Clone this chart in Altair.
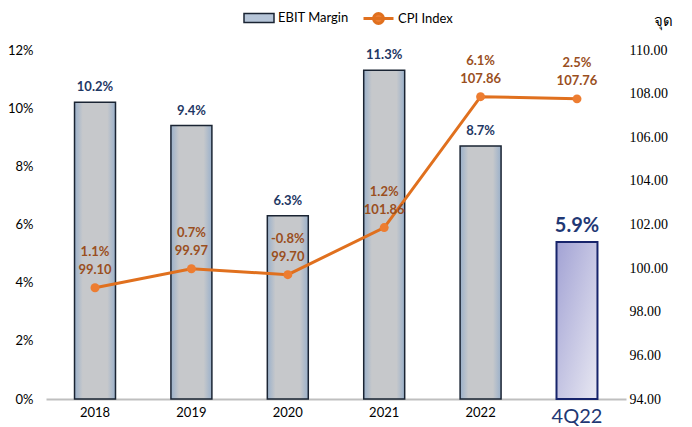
import altair as alt
import pandas as pd

years = ["2018", "2019", "2020", "2021", "2022", "4Q22"]
# bar heights as drawn in the picture
ebit = [10.2, 9.4, 6.3, 11.3, 8.7, 5.4]
# bar labels as printed
ebit_labels = ["10.2%", "9.4%", "6.3%", "11.3%", "8.7%", "5.9%"]
cpi = [99.10, 99.97, 99.70, 101.86, 107.86, 107.76]
cpi_chg = ["1.1%", "0.7%", "-0.8%", "1.2%", "6.1%", "2.5%"]

df = pd.DataFrame({
    "year": years,
    "ebit": ebit,
    "ebit_lbl": ebit_labels,
    "cpi": cpi,
    "cpi_lbl": [f"{c}\n{v:.2f}" for c, v in zip(cpi_chg, cpi)],
    "q": [y == "4Q22" for y in years],
})

FONT = "Lato"
NAVY = "#1f3864"
ORANGE = "#e0701e"
BROWN = "#9a4f1e"

x = alt.X("year:N", sort=years, title=None,
          scale=alt.Scale(paddingInner=0.575, paddingOuter=0.296),
          axis=alt.Axis(labelAngle=0, ticks=False, domainColor="#bfbfbf", domainWidth=2,
                        labelPadding=7, labelFont=FONT,
                        labelFontSize={"expr": "datum.value == '4Q22' ? 20 : 13"},
                        labelColor={"expr": "datum.value == '4Q22' ? '#1f3874' : '#000000'"}))

yl = alt.Y("ebit:Q", title=None,
           scale=alt.Scale(domain=[0, 12], nice=False),
           axis=alt.Axis(values=[0, 2, 4, 6, 8, 10, 12], labelExpr="datum.value + '%'",
                         grid=False, domain=False, ticks=False, labelPadding=13,
                         labelFont=FONT, labelFontSize=13, labelColor="#000000"))

base = alt.Chart(df)

grad_gray = alt.Gradient(gradient="linear", x1=0, x2=1, y1=0, y2=0, stops=[
    alt.GradientStop(color="#9ab0ca", offset=0),
    alt.GradientStop(color="#c6c8cb", offset=0.2),
    alt.GradientStop(color="#c6c8cb", offset=0.8),
    alt.GradientStop(color="#9ab0ca", offset=1),
])
grad_q = alt.Gradient(gradient="linear", x1=0, x2=1, y1=0, y2=1, stops=[
    alt.GradientStop(color="#a2a2d4", offset=0),
    alt.GradientStop(color="#e8e8f2", offset=1),
])

bars = base.transform_filter("!datum.q").mark_bar(
    fill=grad_gray, stroke="#1a2433", strokeWidth=1.5
).encode(x=x, y=yl)

barq = base.transform_filter("datum.q").mark_bar(
    fill=grad_q, stroke="#17246b", strokeWidth=2
).encode(x=x, y=yl)

blabels = base.transform_filter("!datum.q").mark_text(
    baseline="bottom", dy=-8, font=FONT, fontSize=13, fontWeight="bold", color=NAVY
).encode(x=x, y=yl, text="ebit_lbl:N")

blabelq = base.transform_filter("datum.q").mark_text(
    baseline="bottom", dy=-6, font=FONT, fontSize=20, fontWeight="bold", color="#1f3874"
).encode(x=x, y=yl, text="ebit_lbl:N")

legend_bar = base.transform_calculate(series="'EBIT Margin'").mark_bar(strokeWidth=0).encode(
    x=x, y=alt.datum(0), y2=alt.datum(0),
    fill=alt.Fill("series:N", scale=alt.Scale(domain=["EBIT Margin"], range=["#b6c5d8"]),
                  legend=alt.Legend(title=None, orient="none", legendX=197, legendY=-48,
                                    symbolType="M-1,-0.3H1V0.3H-1Z", symbolSize=900,
                                    symbolStrokeColor="#1a2433", symbolStrokeWidth=1.5,
                                    labelFont=FONT, labelFontSize=13, labelColor="#000000",
                                    labelOffset=3)),
)

left = alt.layer(bars, barq, blabels, blabelq, legend_bar)

yr = alt.Y("cpi:Q", title="จุด",
           scale=alt.Scale(domain=[94, 110], nice=False),
           axis=alt.Axis(orient="right", values=[94, 96, 98, 100, 102, 104, 106, 108, 110],
                         format=".2f", grid=False, domain=False, ticks=False, labelPadding=3,
                         labelFont="Liberation Serif", labelFontSize=14, labelColor="#000000",
                         titleAngle=0, titleX=37, titleY=-22, titleAlign="center",
                         titleFont="Noto Sans", titleFontSize=15, titleFontWeight="normal",
                         titleColor="#000000"))

line = base.transform_calculate(series="'CPI Index'").mark_line(strokeWidth=3).encode(
    x=x, y=yr,
    stroke=alt.Stroke("series:N", scale=alt.Scale(domain=["CPI Index"], range=[ORANGE]),
                      legend=alt.Legend(title=None, orient="none", legendX=316, legendY=-48,
                                        symbolType="M-1,0H1M0.33,0A0.33,0.33 0 1,1 -0.33,0A0.33,0.33 0 1,1 0.33,0Z",
                                        symbolSize=900, symbolStrokeWidth=3,
                                        symbolFillColor="#ed7d31",
                                        labelFont=FONT, labelFontSize=13, labelColor="#000000",
                                        labelOffset=3)),
)

pts = base.mark_circle(size=80, color="#ed7d31", opacity=1).encode(x=x, y=yr)

clabels = base.mark_text(
    baseline="bottom", dy=-29, font=FONT, fontSize=13, fontWeight="bold", color=BROWN,
    lineHeight=18, lineBreak="\n"
).encode(x=x, y=yr, text="cpi_lbl:N")

right = alt.layer(line, pts, clabels)

chart = alt.layer(left, right).resolve_scale(y="independent").properties(
    width=580, height=349,
    autosize=alt.AutoSizeParams(type="none"),
    padding={"left": 38, "top": 42, "right": 56, "bottom": 28},
).configure_view(stroke=None)

chart.save("out.html", embed_options={"renderer": "svg", "actions": False})
